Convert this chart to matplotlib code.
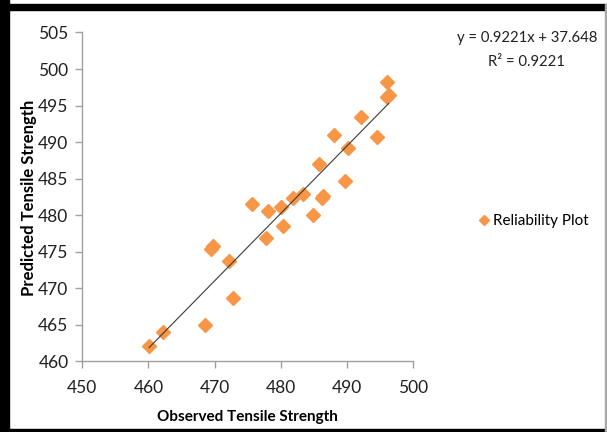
import matplotlib
matplotlib.use("Agg")
import matplotlib.pyplot as plt
from matplotlib import font_manager
from matplotlib.lines import Line2D
from matplotlib.patches import Rectangle

names = {f.name for f in font_manager.fontManager.ttflist}
for cand in ["Liberation Sans Narrow", "Lato", "Open Sans", "DejaVu Sans"]:
    if cand in names:
        FONT = cand
        break
plt.rcParams['font.family'] = [FONT, 'DejaVu Sans']

observed = [460.1, 462.2, 468.6, 469.5, 469.8, 472.2, 472.8, 475.6, 477.7, 478.1,
            480.0, 480.3, 481.9, 483.3, 484.9, 485.8, 486.2, 486.4, 488.0, 489.7,
            490.1, 492.1, 494.5, 496.0, 496.0, 496.3]
predicted = [462.1, 464.0, 465.0, 475.4, 475.8, 473.8, 468.7, 481.5, 476.9, 480.6,
             481.1, 478.6, 482.3, 482.9, 480.0, 487.0, 482.3, 482.6, 491.0, 484.7,
             489.2, 493.4, 490.7, 498.2, 496.2, 496.5]
slope, intercept, r2 = 0.9221, 37.648, 0.9221
x_ticks = [450, 460, 470, 480, 490, 500]
y_ticks = [460, 465, 470, 475, 480, 485, 490, 495, 500, 505]

fig = plt.figure(figsize=(6.07, 4.32), dpi=100)
ax = fig.add_axes([0.1356, 0.1632, 0.545, 0.7616])

orange = '#F79646'
ax.plot(observed, predicted, linestyle='none', marker='D', ms=7.3,
        color=orange, mec=orange, zorder=3)
x0, x1 = min(observed), max(observed)
ax.plot([x0, x1], [slope * x0 + intercept, slope * x1 + intercept],
        color='#3a3a3a', lw=0.8, zorder=4)

ax.set_xlim(450, 500)
ax.set_ylim(460, 505)
ax.set_xticks(x_ticks)
ax.set_yticks(y_ticks)
for s in ['top', 'right']:
    ax.spines[s].set_visible(False)
for s in ['left', 'bottom']:
    ax.spines[s].set_color('#a0a0a0')
    ax.spines[s].set_linewidth(1.0)
ax.tick_params(axis='both', colors='#a0a0a0', length=5, width=1.0,
               labelcolor='#202020', labelsize=12.5)
ax.tick_params(axis='x', pad=8)
ax.tick_params(axis='y', pad=5)

fig.text(0.408, 0.035, 'Observed Tensile Strength', ha='center', va='center',
         fontsize=11, fontweight='bold', color='black')
fig.text(0.047, 0.541, 'Predicted Tensile Strength', ha='center', va='center',
         rotation=90, fontsize=12, fontweight='bold', color='black')

fig.text(0.868, 0.912, 'y = 0.9221x + 37.648', ha='center', va='center',
         fontsize=10.7, color='#202020')
fig.text(0.868, 0.857, 'R² = 0.9221', ha='center', va='center',
         fontsize=10.7, color='#202020')

handle = Line2D([], [], linestyle='none', marker='D', ms=5.5, color=orange)
fig.legend([handle], ['Reliability Plot'], loc='center left',
           bbox_to_anchor=(0.775, 0.488), frameon=False, fontsize=11,
           handletextpad=0.1, handlelength=1.0, borderaxespad=0)

# outer frame
fig.patches.append(Rectangle((0, 0), 9 / 607, 1, transform=fig.transFigure,
                             color='black', zorder=10))
fig.patches.append(Rectangle((0, 1 - 10 / 432), 1, 6 / 432, transform=fig.transFigure,
                             color='black', zorder=10))
fig.patches.append(Rectangle((0, 0), 1, 3 / 432, transform=fig.transFigure,
                             color='black', zorder=10))
fig.patches.append(Rectangle((1 - 2 / 607, 0), 2 / 607, 1 - 4 / 432, transform=fig.transFigure,
                             color='#a8a8a8', zorder=10))

fig.savefig('out.png', dpi=100)
